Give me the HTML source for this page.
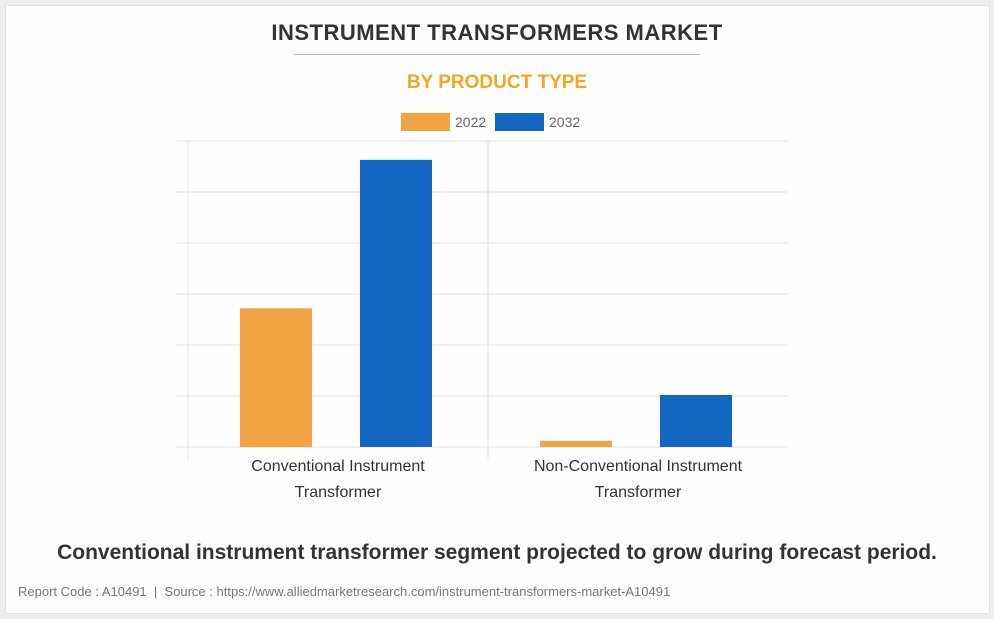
<!DOCTYPE html>
<html><head><meta charset="utf-8"><style>
body{margin:0;width:994px;height:619px;background:#eeeeee;font-family:"Liberation Sans",sans-serif;overflow:hidden}
#card{position:absolute;left:5px;top:5px;width:983px;height:607px;background:#fefefe;border:1px solid #e2e2e2}
.t{position:absolute;left:0;width:994px;text-align:center}
</style></head><body>
<div id="card"></div>
<div class="t" style="top:20px;font-size:22px;font-weight:bold;color:#333;letter-spacing:0.5px">INSTRUMENT TRANSFORMERS MARKET</div>
<div style="position:absolute;left:294px;top:54px;width:406px;height:1px;background:#bbb"></div>
<div class="t" style="top:72px;font-size:19px;font-weight:bold;color:#f5a623">BY PRODUCT TYPE</div>
<svg id="chart" width="994" height="619" style="position:absolute;left:0;top:0"></svg>
<div class="t" style="top:541px;font-size:21px;font-weight:bold;color:#333">Conventional instrument transformer segment projected to grow during forecast period.</div>
<div style="position:absolute;left:18px;top:584px;font-size:13px;color:#777">Report Code : A10491 &nbsp;|&nbsp; Source : https://www.alliedmarketresearch.com/instrument-transformers-market-A10491</div>
<script>
const categories=[["Conventional Instrument","Transformer"],["Non-Conventional Instrument","Transformer"]];
const seriesNames=["2022","2032"];
const values2022=[2.72,0.12];
const values2032=[5.63,1.02];
const yTicks=[0,1,2,3,4,5,6];
const colors=["#f2a444","#1366c2"];
const svg=document.getElementById('chart');const NS="http://www.w3.org/2000/svg";
const x0=188,x1=788,yb=447,yt=141,ymax=6;
const y=v=>yb-(v/ymax)*(yb-yt);
const bandW=(x1-x0)/categories.length;
function mk(t,a){const e=document.createElementNS(NS,t);for(const k in a)e.setAttribute(k,a[k]);svg.appendChild(e);return e;}
yTicks.forEach(v=>{const l=mk('line',{x1:176,x2:x1,y1:y(v),y2:y(v),stroke:'#e3e3e3','stroke-width':1});

});
for(let i=0;i<=categories.length-1;i++){const xx=x0+i*bandW;const l=mk('line',{x1:xx,x2:xx,y1:yt,y2:yb+12,stroke:'#e3e3e3'});

}
const series=[values2022,values2032];
categories.forEach((c,i)=>{const cx=x0+bandW*(i+0.5);
series.forEach((vals,s)=>{const bx=cx-126+s*120+28;const r=mk('rect',{x:bx,y:y(vals[i]),width:72,height:yb-y(vals[i]),fill:colors[s]});

});
c.forEach((ln,k)=>{const t=mk('text',{x:cx,y:471+k*26,'text-anchor':'middle','font-size':16,fill:'#333','font-family':'Liberation Sans'});t.textContent=ln;

});});
seriesNames.forEach((n,s)=>{const lx=401+s*94;const r=mk('rect',{x:lx,y:113,width:49,height:18,fill:colors[s]});


const t=mk('text',{x:lx+54,y:127,'font-size':14,fill:'#666','font-family':'Liberation Sans'});t.textContent=n;

});
</script>
</body></html>
